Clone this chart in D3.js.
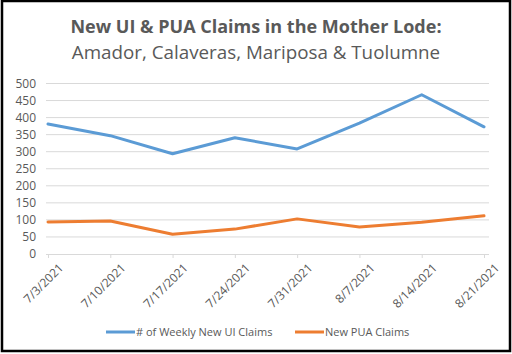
<!DOCTYPE html>
<meta charset="utf-8">
<script src="https://d3js.org/d3.v7.min.js"></script>
<style>
  body { margin: 0; background: #fff; }
  text { font-family: "Open Sans", sans-serif; fill: #595959; }
</style>
<svg id="chart" width="512" height="354"></svg>
<script>
// data
const dates = ["7/3/2021", "7/10/2021", "7/17/2021", "7/24/2021", "7/31/2021", "8/7/2021", "8/14/2021", "8/21/2021"];
const uiClaims = [381, 347, 294, 341, 308, 384, 467, 373];
const puaClaims = [94, 97, 58, 73, 103, 79, 93, 112];
const yTicks = [0, 50, 100, 150, 200, 250, 300, 350, 400, 450, 500];
const seriesNames = ["# of Weekly New UI Claims", "New PUA Claims"];
const colors = ["#5B9BD5", "#ED7D31"];

const svg = d3.select("#chart");

// chart border
svg.append("rect")
  .attr("x", 2).attr("y", 1).attr("width", 508).attr("height", 350)
  .attr("fill", "#fff").attr("stroke", "#000").attr("stroke-width", 2.5);

// titles
svg.append("text")
  .attr("x", 256).attr("y", 33)
  .attr("text-anchor", "middle")
  .style("font-size", "18px").style("font-weight", "bold")
  .text("New UI & PUA Claims in the Mother Lode:");
svg.append("text")
  .attr("x", 256).attr("y", 59)
  .attr("text-anchor", "middle")
  .style("font-size", "18.8px")
  .text("Amador, Calaveras, Mariposa & Tuolumne");

const x = d3.scalePoint().domain(dates).range([48, 484]);
const y = d3.scaleLinear().domain([0, 500]).range([254, 83.5]);

// gridlines
svg.append("g")
  .selectAll("line")
  .data(yTicks.slice(1))
  .join("line")
  .attr("x1", 46).attr("x2", 489)
  .attr("y1", d => y(d)).attr("y2", d => y(d))
  .attr("stroke", "#D9D9D9").attr("stroke-width", 1);

// y axis labels
const yAxis = svg.append("g")
  .attr("transform", "translate(46,0)")
  .call(d3.axisLeft(y).tickValues(yTicks).tickSize(0).tickPadding(10));
yAxis.select(".domain").remove();
yAxis.selectAll("text").style("font-size", "12px").attr("fill", "#595959");

// x axis
const xAxis = svg.append("g")
  .attr("transform", `translate(0,${y(0)})`)
  .call(d3.axisBottom(x).tickSize(4).tickSizeOuter(0));
xAxis.select(".domain").attr("d", "M46,0.5H489").attr("stroke", "#D9D9D9");
xAxis.selectAll(".tick line").attr("stroke", "#D9D9D9");
xAxis.selectAll("text")
  .style("font-size", "12px").attr("fill", "#595959")
  .attr("text-anchor", "end")
  .attr("transform", "translate(7,6) rotate(-45)")
  .attr("x", 0).attr("y", 8).attr("dy", "0.35em");

// lines
const line = d3.line().x((d, i) => x(dates[i])).y(d => y(d));
[uiClaims, puaClaims].forEach((s, i) => {
  svg.append("path")
    .datum(s)
    .attr("fill", "none")
    .attr("stroke", colors[i])
    .attr("stroke-width", 3)
    .attr("stroke-linejoin", "round")
    .attr("stroke-linecap", "round")
    .attr("d", line);
});

// legend
const legendX = [106, 295];
seriesNames.forEach((name, i) => {
  const g = svg.append("g").attr("transform", `translate(${legendX[i]},332)`);
  g.append("line").attr("x1", 0).attr("x2", 29)
    .attr("stroke", colors[i]).attr("stroke-width", 3);
  g.append("text").attr("x", 30).attr("dy", "0.35em")
    .style("font-size", "11px").text(name);
});
</script>
